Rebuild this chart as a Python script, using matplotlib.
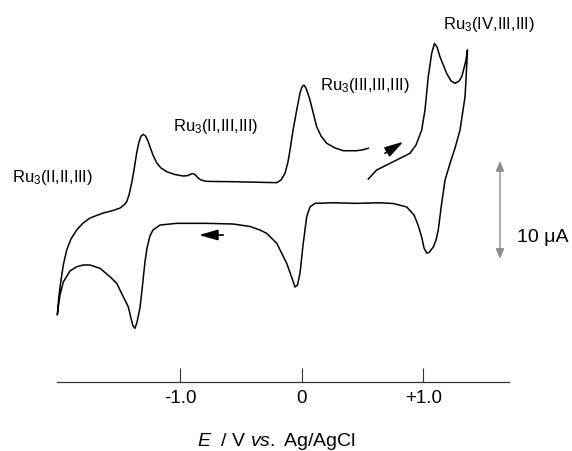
import numpy as np
import matplotlib
matplotlib.use("Agg")
import matplotlib.pyplot as plt

plt.rcParams['font.family'] = ['Liberation Sans', 'DejaVu Sans']
plt.rcParams['mathtext.fontset'] = 'custom'
plt.rcParams['mathtext.rm'] = 'Liberation Sans'
plt.rcParams['mathtext.it'] = 'Liberation Sans:italic'

# forward (anodic) sweep, starting at ~+0.55 V
E_start = [0.547, 0.616, 0.753, 0.890, 0.939, 0.964, 0.986, 1.013, 1.040, 1.068,
           1.091, 1.112, 1.136, 1.191, 1.227, 1.260, 1.293, 1.315, 1.334, 1.350, 1.362]
I_start = [2.65, 3.57, 4.42, 5.28, 6.12, 6.94, 7.65, 9.69, 13.09, 15.48,
           16.48, 16.12, 15.13, 13.44, 12.65, 12.42, 12.65, 13.09, 13.98, 14.80, 15.82]

# reverse (cathodic) sweep down to -2.0 V
E_back = [1.362, 1.350, 1.342, 1.317, 1.301, 1.260, 1.219, 1.178, 1.150, 1.122,
          1.104, 1.081, 1.046, 1.027, 1.005, 0.986, 0.956, 0.923, 0.863, 0.753,
          0.643, 0.452, 0.260, 0.109, 0.068, 0.041, 0.011, -0.014, -0.035, -0.055,
          -0.080, -0.123, -0.205, -0.288, -0.343, -0.425, -0.562, -0.781, -1.027, -1.164,
          -1.222, -1.247, -1.271, -1.288, -1.312, -1.329, -1.353, -1.370, -1.386, -1.403,
          -1.425, -1.466, -1.520, -1.575, -1.657, -1.740, -1.795, -1.849, -1.904, -1.959,
          -1.986, -2.000, -2.008]
I_back = [15.82, 12.76, 11.05, 8.98, 7.65, 5.82, 4.26, 2.55, 0.17, -2.55,
          -3.57, -4.29, -4.85, -4.90, -4.39, -3.27, -2.04, -1.02, -0.20, 0.15,
          0.23, 0.17, 0.23, 0.17, -0.20, -1.19, -4.08, -6.97, -8.16, -8.37,
          -7.45, -5.95, -3.91, -2.89, -2.55, -2.19, -1.94, -1.87, -1.87, -2.04,
          -2.55, -3.16, -4.39, -5.82, -8.67, -10.51, -11.94, -12.58, -12.35, -11.53,
          -10.38, -9.36, -7.99, -7.32, -6.46, -6.12, -6.12, -6.30, -6.73, -7.86,
          -9.18, -10.41, -11.22]

# second anodic sweep back to ~+0.55 V
E_fwd = [-2.008, -1.998, -1.986, -1.959, -1.931, -1.896, -1.849, -1.797, -1.740, -1.633,
         -1.551, -1.493, -1.460, -1.438, -1.419, -1.397, -1.378, -1.356, -1.337, -1.320,
         -1.302, -1.283, -1.263, -1.247, -1.222, -1.191, -1.156, -1.109, -1.041, -0.973,
         -0.934, -0.910, -0.891, -0.873, -0.852, -0.827, -0.786, -0.712, -0.562, -0.343,
         -0.205, -0.170, -0.137, -0.113, -0.096, -0.071, -0.041, -0.014, 0.002, 0.019,
         0.035, 0.052, 0.068, 0.093, 0.123, 0.159, 0.205, 0.274, 0.342, 0.452,
         0.504, 0.547]
I_fwd = [-11.22, -9.69, -8.37, -6.12, -4.59, -3.47, -2.55, -1.84, -1.33, -0.82,
         -0.56, -0.31, 0.00, 0.34, 1.02, 2.24, 3.57, 5.31, 6.43, 7.04,
         7.21, 7.04, 6.53, 5.95, 5.10, 4.29, 3.78, 3.40, 3.11, 2.96,
         3.01, 3.16, 3.21, 3.06, 2.76, 2.55, 2.42, 2.40, 2.38, 2.32,
         2.28, 2.55, 3.23, 4.39, 5.61, 7.65, 9.69, 11.43, 12.04, 12.24,
         11.94, 11.33, 10.71, 9.49, 7.99, 7.04, 6.30, 5.82, 5.54, 5.54,
         5.64, 5.79]

tick_pos = [-1.0, 0.0, 1.0]
tick_lab = ['-1.0', '0', '+1.0']

E = np.concatenate([E_start, E_back, E_fwd])
I = np.concatenate([I_start, I_back, I_fwd])

fig = plt.figure(figsize=(5.72, 4.51), dpi=100)
ax = fig.add_axes([0, 0, 1, 1])
ax.plot(E, I, color='black', lw=1.1, solid_joinstyle='round')

ax.set_xlim(-2.479, 2.221)
ax.set_ylim(-25.10, 20.92)

# only the potential axis is drawn
for s in ['top', 'right', 'left']:
    ax.spines[s].set_visible(False)
ax.spines['bottom'].set_position(('data', -18.03))
ax.spines['bottom'].set_bounds(-2.01, 1.70)
ax.spines['bottom'].set_color('#333333')
ax.spines['bottom'].set_linewidth(0.9)
ax.set_yticks([])
ax.set_xticks(tick_pos)
ax.set_xticklabels(tick_lab)
ax.tick_params(axis='x', direction='in', length=10, width=0.8, color='#333333',
               pad=6, labelsize=13.5)

# sweep direction arrows
astyle = '-|>,head_length=0.95,head_width=0.27'
ax.annotate('', xy=(0.835, 6.46), xytext=(0.684, 5.28),
            arrowprops=dict(arrowstyle=astyle, color='black', lw=1.2, mutation_scale=12,
                            shrinkA=0, shrinkB=0))
ax.annotate('', xy=(-0.844, -3.06), xytext=(-0.644, -3.06),
            arrowprops=dict(arrowstyle=astyle, color='black', lw=1.2, mutation_scale=12,
                            shrinkA=0, shrinkB=0))

# 10 uA scale bar
ax.annotate('', xy=(1.629, 4.50), xytext=(1.629, -5.50),
            arrowprops=dict(arrowstyle='<|-|>,head_length=0.6,head_width=0.25',
                            color='#8c8c8c', lw=1.0, mutation_scale=10,
                            shrinkA=0, shrinkB=0))
ax.text(1.769, -3.27, '10 \u03bcA', fontsize=14, ha='left', va='center')

# redox state labels
ax.text(-2.383, 2.76, 'Ru$_3$(II,II,III)', fontsize=12, ha='left', va='center')
ax.text(-1.058, 8.06, 'Ru$_3$(II,III,III)', fontsize=12, ha='left', va='center')
ax.text(0.150, 12.24, 'Ru$_3$(III,III,III)', fontsize=12, ha='left', va='center')
ax.text(1.161, 18.37, 'Ru$_3$(IV,III,III)', fontsize=12, ha='left', va='center')

fig.text(277 / 572, 1 - 441 / 451, r'$\mathit{E}$  / V $\mathit{vs.}$ Ag/AgCl',
         fontsize=14, ha='center', va='center')

fig.savefig('out.png', dpi=100)
